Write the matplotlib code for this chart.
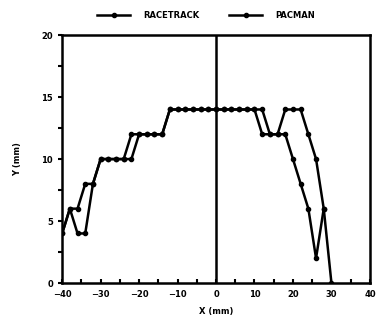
import numpy as np
import matplotlib.pyplot as plt
from matplotlib.ticker import MultipleLocator

# RACETRACK
x_race = [-40, -38, -36, -34, -32, -30, -28, -26, -24, -22, -20, -18, -16, -14,
          -12, -10, -8, -6, -4, -2, 0, 2, 4, 6, 8, 10, 12, 14, 16, 18, 20, 22,
          24, 26, 28]
y_race = [4, 6, 6, 8, 8, 10, 10, 10, 10, 12, 12, 12, 12, 12,
          14, 14, 14, 14, 14, 14, 14, 14, 14, 14, 14, 14, 12, 12, 12, 12, 10, 8,
          6, 2, 6]

# PACMAN
x_pac = [-40, -38, -36, -34, -32, -30, -28, -26, -24, -22, -20, -18, -16, -14,
         -12, -10, -8, -6, -4, -2, 0, 2, 4, 6, 8, 10, 12, 14, 16, 18, 20, 22,
         24, 26, 28, 30]
y_pac = [4, 6, 4, 4, 8, 10, 10, 10, 10, 10, 12, 12, 12, 12,
         14, 14, 14, 14, 14, 14, 14, 14, 14, 14, 14, 14, 14, 12, 12, 14, 14, 14,
         12, 10, 6, 0]

fig = plt.figure(figsize=(3.79, 3.22), dpi=100)
ax = fig.add_axes([0.164, 0.121, 0.812, 0.770])

style = dict(color='black', lw=1.8, marker='o', markersize=3)
ax.plot(x_race, y_race, label='RACETRACK', **style)
ax.plot(x_pac, y_pac, label='PACMAN', **style)
ax.axvline(0, color='black', lw=1.8)

ax.set_xlim(-40, 40)
ax.set_ylim(0, 20)
ax.xaxis.set_major_locator(MultipleLocator(10))
ax.xaxis.set_minor_locator(MultipleLocator(5))
ax.yaxis.set_major_locator(MultipleLocator(5))
ax.yaxis.set_minor_locator(MultipleLocator(2.5))
ax.tick_params(axis='x', which='both', direction='in', length=3, width=1.5, pad=5)
ax.tick_params(axis='y', which='both', direction='out', length=3, width=1.5)
ax.tick_params(labelsize=6)
for lab in ax.get_xticklabels() + ax.get_yticklabels():
    lab.set_fontweight('bold')
for sp in ax.spines.values():
    sp.set_linewidth(1.8)

ax.set_xlabel('X (mm)', fontsize=6, fontweight='bold', labelpad=6)
ax.set_ylabel('Y (mm)', fontsize=6, fontweight='bold', labelpad=14)

ax.legend(loc='lower center', bbox_to_anchor=(0.468, 1.03), ncol=2,
          frameon=False, handlelength=4, handletextpad=1.6, columnspacing=3.5,
          prop={'weight': 'bold', 'size': 6})

plt.savefig('out.png', dpi=100)
